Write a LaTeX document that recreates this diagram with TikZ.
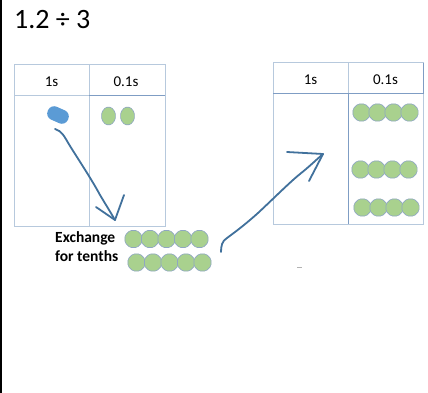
\documentclass[tikz,border=0pt]{standalone}
\usepackage{fontspec}
\setmainfont{Carlito}
\usetikzlibrary{shapes.geometric}
\definecolor{tline}{HTML}{B7C9DD}
\definecolor{tdark}{HTML}{7F9DC4}
\definecolor{gfill}{HTML}{A9D18E}
\definecolor{gedge}{HTML}{8FA7C2}
\definecolor{blob}{HTML}{5B9BD5}
\definecolor{arrowc}{HTML}{41719C}
\tikzset{
  tenth/.style={regular polygon, regular polygon sides=8, minimum size=18.5pt, inner sep=0pt,
     fill=gfill, draw=gedge, line width=0.6pt, rounded corners=1.5pt},
  tenthn/.style={tenth, minimum size=19pt, transform shape, xscale=0.78},
  hdr/.style={font=\fontsize{15}{17}\selectfont, inner sep=0pt},
  lab/.style={font=\fontsize{15.5}{18}\selectfont\bfseries, inner sep=0pt, anchor=base west},
  tbl/.style={draw=tline, line width=1pt},
  hand/.style={draw=arrowc, line width=1.8pt, line cap=round, line join=round},
}
\begin{document}
\begin{tikzpicture}[x=1pt,y=-1pt]
\useasboundingbox (0,0) rectangle (428,393);
\fill[white] (0,0) rectangle (428,393);
\draw[black, line width=2pt] (1,0) -- (1,393);
% title
\node[font=\fontsize{28}{32}\selectfont, inner sep=0pt, anchor=base west] (title) at (14,28.5) {1.2 ÷ 3};
% left table
\draw[tbl] (14,65) rectangle (165,226);
\draw[tbl] (89,65) -- (89,226);
\draw[tbl] (14,96) -- (89,96);
\draw[draw=tdark, line width=1pt] (89,96) -- (165,96);
\node[hdr] (l1s) at (51.5,81.5) {1s};
\node[hdr] (l01s) at (126,81.5) {0.1s};
% right table
\draw[tbl] (273,63) rectangle (423,224);
\draw[draw=tdark, line width=1pt] (423,63) -- (423,94);
\draw[tbl] (348,63) -- (348,94);
\draw[draw=tdark, line width=1pt] (348,94) -- (348,224);
\draw[draw=tdark, line width=1pt] (273,94) -- (423,94);
\node[hdr] (r1s) at (310.5,79.5) {1s};
\node[hdr] (r01s) at (385.5,79.5) {0.1s};
% blob (one)
\node[rectangle, rounded corners=6.5pt, fill=blob, minimum width=22pt, minimum height=14pt, inner sep=0pt, rotate=-24] (one) at (58,115) {};
% two tenths in left table
\node[tenthn] (lt1) at (108.5,116) {};
\node[tenthn] (lt2) at (127.5,116) {};
% exchange text
\node[lab] (ex1) at (55,242.5) {Exchange};
\node[lab] (ex2) at (55,261) {for tenths};
% exchange tenths
\foreach \i/\x in {1/133.5,2/150,3/166.5,4/183,5/199.5} {\node[tenth] (ea\i) at (\x,239) {};}
\foreach \i/\x in {1/136.5,2/153,3/169.5,4/186,5/202.5} {\node[tenth] (eb\i) at (\x,262.5) {};}
% right table tenths
\foreach \i/\x in {1/361.5,2/377.5,3/393.5,4/409.5} {\node[tenth] (ra\i) at (\x,112.5) {};}
\foreach \i/\x in {1/360.5,2/376.5,3/392.5,4/408.5} {\node[tenth] (rb\i) at (\x,169.5) {};}
\foreach \i/\x in {1/362.5,2/378.5,3/394.5,4/410.5} {\node[tenth] (rc\i) at (\x,207.5) {};}
% arrow 1
\coordinate (a1s) at (55,129);
\coordinate (a1t) at (115,220);
\coordinate (a1l) at (96,207);
\coordinate (a1r) at (124,195);
\draw[hand] (a1s) .. controls (62,131) and (64,136) .. (70,146)
   .. controls (80,162) and (92,180) .. (100,195)
   .. controls (106,205) and (111,213) .. (a1t);
\draw[hand] (a1l) -- (a1t) -- (a1r);
% arrow 2
\coordinate (a2s) at (221,252);
\coordinate (a2t) at (323,154);
\coordinate (a2l) at (287,152);
\coordinate (a2r) at (309,181);
\draw[hand] (a2s) .. controls (221,246) and (222,241) .. (227,238)
   .. controls (238,230) and (248,222) .. (258,213)
   .. controls (272,200) and (290,182) .. (300,174)
   .. controls (310,166) and (316,160) .. (a2t);
\draw[hand] (a2l) -- (a2t) -- (a2r);
% small dash
\draw[gray!60, line width=0.8pt] (297,267) -- (302,267);
\end{tikzpicture}
\end{document}
